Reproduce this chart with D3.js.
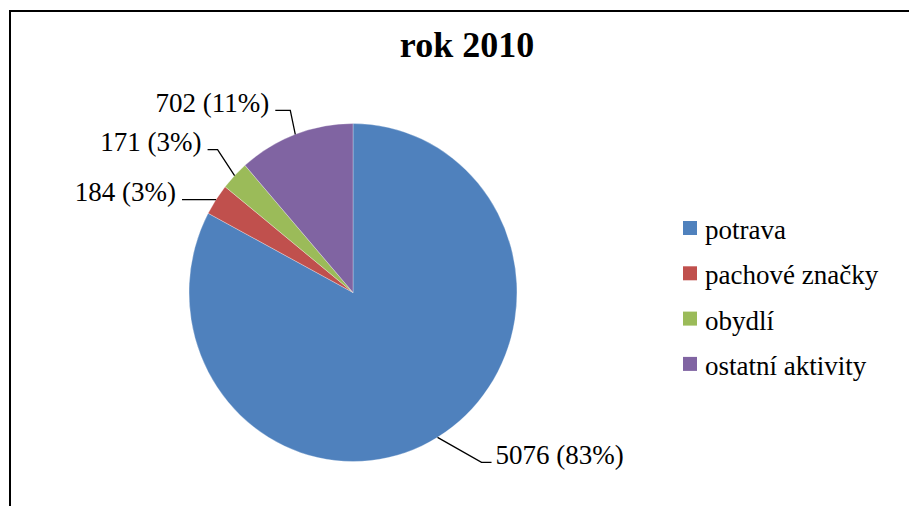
<!DOCTYPE html>
<html lang="cs">
<head>
<meta charset="utf-8">
<style>
  body { margin: 0; background: #fff; }
  svg { display: block; }
  .lbl, .leg { font-family: "Liberation Serif", "Times New Roman", serif; font-size: 27px; fill: #000; }
  .title { font-family: "Liberation Serif", "Times New Roman", serif; font-size: 36px; font-weight: bold; }
  .leader { fill: none; stroke: #000; stroke-width: 1.3px; }
</style>
<script src="https://d3js.org/d3.v7.min.js"></script>
</head>
<body>
<script>
// data
var categories = ["potrava", "pachové značky", "obydlí", "ostatní aktivity"];
var values = [5076, 184, 171, 702];
var percents = ["83%", "3%", "3%", "11%"];
var colors = ["#4F81BD", "#C0504D", "#9BBB59", "#8064A2"];

// leader line layout (elbow offset from the slice edge, horizontal length)
var leaderLayout = [
  {dx: 44, dy: 25, len: 10},
  {dx: 0, dy: 0, len: 34},
  {dx: -17, dy: -26, len: 10},
  {dx: -5, dy: -24, len: 15}
];

var width = 909, height = 506;
var cx = 353, cy = 292.5, rx = 164, ry = 169;

var svg = d3.select("body").append("svg")
  .attr("width", width)
  .attr("height", height);

// frame
svg.append("rect")
  .attr("x", 10).attr("y", 11)
  .attr("width", 940).attr("height", 540)
  .attr("fill", "none").attr("stroke", "#000").attr("stroke-width", 2);

svg.append("text")
  .attr("class", "title")
  .attr("x", 467).attr("y", 57)
  .attr("text-anchor", "middle")
  .text("rok 2010");

var pie = d3.pie().sort(null).value(function(d) { return d; });
var arcs = pie(values);

var arc = d3.arc().innerRadius(0).outerRadius(ry);

// slightly squashed horizontally like the original
var g = svg.append("g")
  .attr("transform", "translate(" + cx + "," + cy + ") scale(" + (rx / ry) + ",1)");

g.selectAll("path")
  .data(arcs)
  .enter().append("path")
  .attr("d", arc)
  .attr("fill", function(d, i) { return colors[i]; })
  .attr("stroke", "rgba(255,255,255,0.5)")
  .attr("stroke-width", 0.6);

// labels with leader lines
arcs.forEach(function(d, i) {
  var a = (d.startAngle + d.endAngle) / 2;
  var x0 = cx + rx * Math.sin(a), y0 = cy - ry * Math.cos(a);
  var L = leaderLayout[i];
  var x1 = x0 + L.dx, y1 = y0 + L.dy;
  var right = Math.sin(a) > 0;
  var x2 = right ? x1 + L.len : x1 - L.len;
  svg.append("path")
    .attr("class", "leader")
    .attr("d", d3.line()([[x0, y0], [x1, y1], [x2, y1]]));
  svg.append("text")
    .attr("class", "lbl")
    .attr("x", right ? x2 + 4 : x2 - 6)
    .attr("y", y1 + 1.5)
    .attr("text-anchor", right ? "start" : "end")
    .text(values[i] + " (" + percents[i] + ")");
});

// legend
var legend = svg.append("g").attr("transform", "translate(683,239)");
var rows = legend.selectAll("g")
  .data(categories)
  .enter().append("g")
  .attr("transform", function(d, i) { return "translate(0," + (i * 45.3) + ")"; });
rows.append("rect")
  .attr("x", 0).attr("y", -18)
  .attr("width", 14).attr("height", 14)
  .attr("fill", function(d, i) { return colors[i]; });
rows.append("text")
  .attr("class", "leg")
  .attr("x", 22).attr("y", 0)
  .text(function(d) { return d; });
</script>
</body>
</html>
